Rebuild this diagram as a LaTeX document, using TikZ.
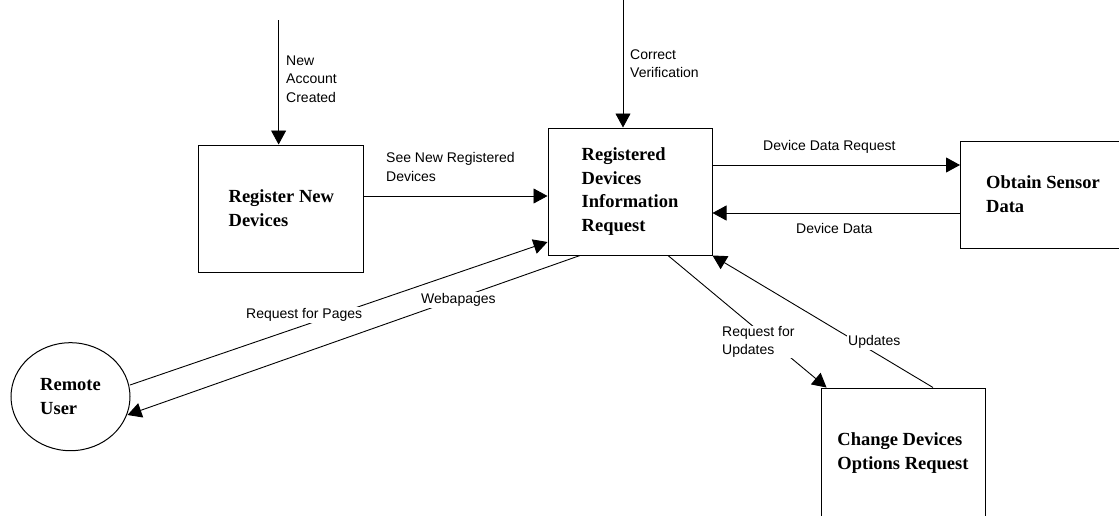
\documentclass[tikz,border=0pt]{standalone}
\usepackage{fontspec}
\setmainfont{Liberation Serif}
\newfontfamily\lblfont{Liberation Sans}
\usetikzlibrary{arrows.meta,shapes.geometric,calc}
\begin{document}
\begin{tikzpicture}[x=1pt,y=-1pt,
  boxfont/.style={font=\fontsize{18.5}{23.8}\selectfont\bfseries},
  proc/.style={draw, line width=1pt, rectangle, inner sep=0pt, align=left, boxfont},
  flow/.style={line width=0.9pt, -{Triangle[length=14pt,width=15pt]}},
  lbl/.style={font=\lblfont\fontsize{14}{18.5}\selectfont, align=left, inner sep=1pt, anchor=west},
  lblw/.style={lbl, fill=white}]
\fill[white] (0,0) rectangle (1119,515);
\useasboundingbox (0,0) rectangle (1119,515);

% processes
\node[proc, minimum width=165pt, minimum height=127pt] (reg) at (281.3,208.5) {Register New\\Devices};
\node[proc, minimum width=164pt, minimum height=127pt] (info) at (630,191.5) {Registered\\Devices\\Information\\Request};
\node[proc, minimum width=165pt, minimum height=107pt] (obtain) at (1043,194.5) {Obtain Sensor\\Data};
\node[proc, minimum width=164pt, minimum height=130pt] (change) at (903,453) {Change Devices\\Options Request};
\node[ellipse, draw, line width=1pt, minimum width=119pt, minimum height=108pt, inner sep=0pt, align=left, boxfont] (user) at (70.5,396.7) {Remote\\User};

% free ends
\coordinate (s1) at (278.6,20);
\coordinate (s2) at (623,0);

% flows
\draw[flow] (s1) -- ($(reg.north)+(-2.7,0)$);
\draw[flow] (s2) -- ($(info.north)+(-7,0)$);
\draw[flow] ($(reg.east)+(0,-12.5)$) -- ($(info.west)+(0,4.5)$);
\draw[flow] ($(info.east)+(0,-26.5)$) -- ($(obtain.west)+(0,-29.5)$);
\draw[flow] ($(obtain.west)+(0,18.5)$) -- ($(info.east)+(0,21.5)$);
\draw[flow] ($(info.south)+(38,0)$) -- ($(change.north west)+(6,0)$);
\draw[flow] ($(change.north)+(30,0)$) -- (info.south east);
\draw[flow] ($(user.east)+(-0.5,-11.7)$) -- ($(info.west)+(0,50.5)$);
\draw[flow] ($(info.south)+(-50,0)$) -- ($(user.east)+(-3,18.3)$);

% labels
\node[lbl] (lNew) at (285,79) {New\\Account\\Created};
\node[lbl] (lCorr) at (629,63.5) {Correct\\Verification};
\node[lbl] (lSee) at (385,167) {See New Registered\\Devices};
\node[lbl] (lDDR) at (762,147) {Device Data Request};
\node[lbl] (lDD) at (795,228) {Device Data};
\node[lblw, inner sep=0pt] (lRFU) at (722,342) {Request for\\Updates};
\node[lblw] (lUpd) at (847,342) {Updates};
\node[lblw] (lRFP) at (245,315) {Request for Pages};
\node[lblw] (lWeb) at (420,300) {Webapages};
\end{tikzpicture}
\end{document}
